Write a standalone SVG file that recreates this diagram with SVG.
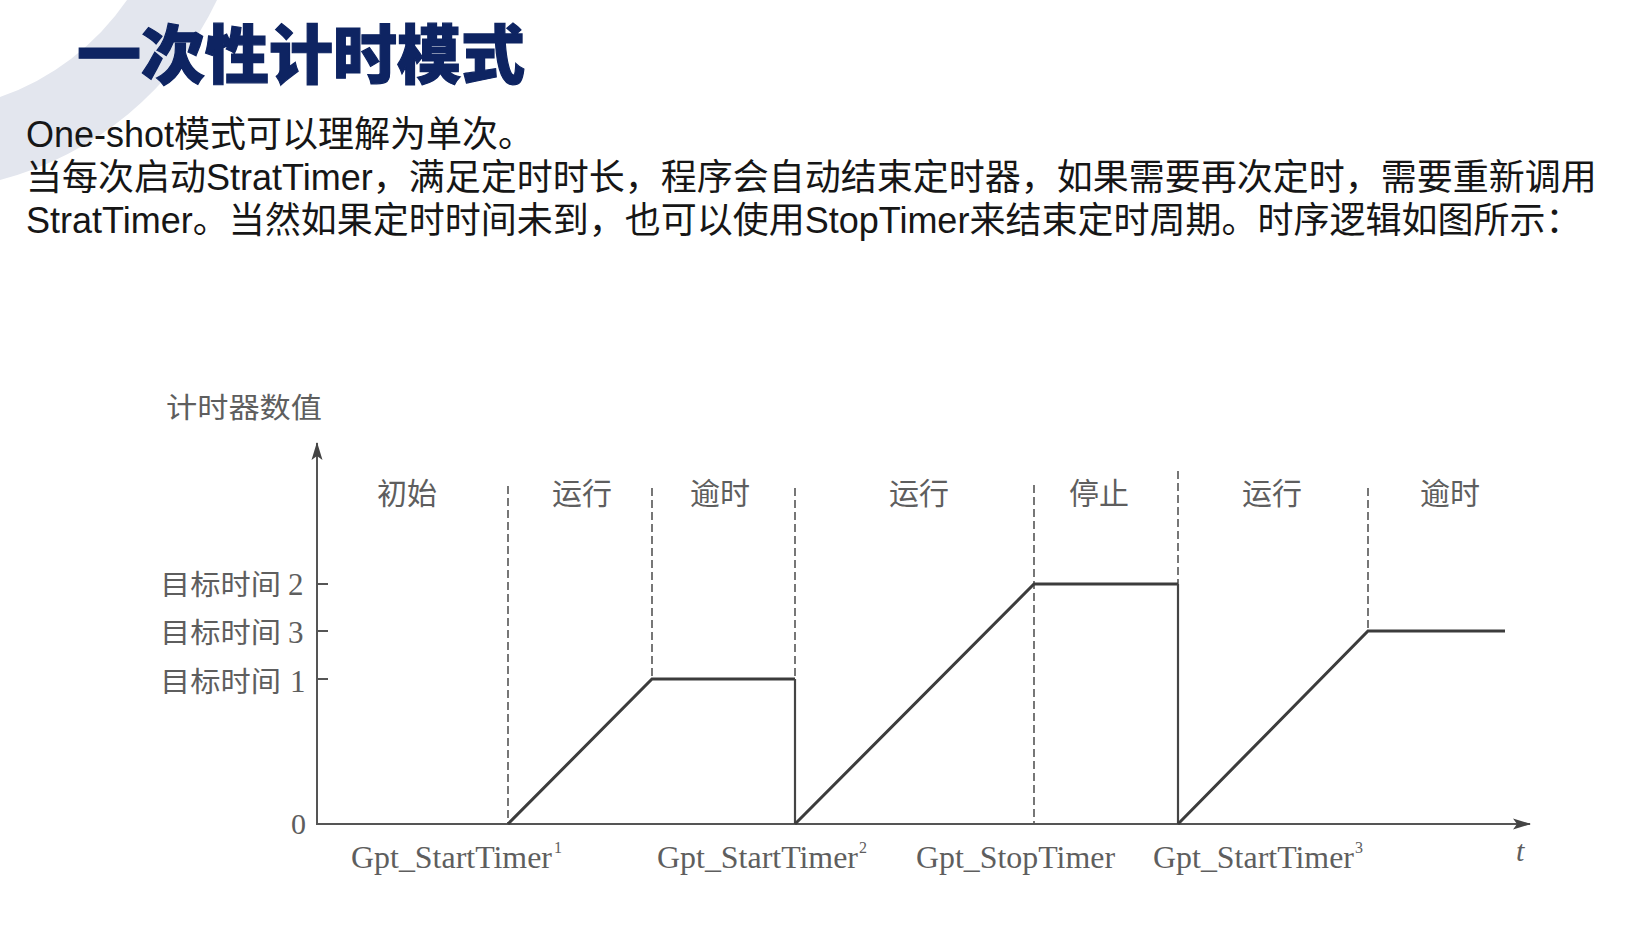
<svg xmlns="http://www.w3.org/2000/svg" width="1629" height="931" viewBox="0 0 1629 931">
<defs>
<style>
.title{font-family:"Noto Sans CJK SC","Noto Sans",sans-serif;font-weight:900;font-size:64px;fill:#0e2462;stroke:#0e2462;stroke-width:1.2px}
.para{font-family:"Liberation Sans","Noto Sans CJK SC",sans-serif;font-size:36px;fill:#161616}
.cjk{font-family:"Noto Sans CJK SC",sans-serif;fill:#5e5e5e}
.num{font-family:"Liberation Serif",serif;fill:#5e5e5e}
.axis{stroke:#555;stroke-width:2;fill:none}
.guide{stroke:#555;stroke-width:1.6;stroke-dasharray:8 4;fill:none}
.sig{stroke:#3c3c3c;stroke-width:3;fill:none;stroke-linejoin:miter}
.drop{stroke:#454545;stroke-width:2.2;fill:none}
</style>
<marker id="arr" viewBox="0 0 18 12" refX="17" refY="6" markerWidth="18" markerHeight="12" markerUnits="userSpaceOnUse" orient="auto">
<path d="M0,0.5 L18,6 L0,11.5 L4,6 Z" fill="#444"/>
</marker>
</defs>
<rect width="1629" height="931" fill="#ffffff"/>
<path id="bg-arc" d="M127,0 A256,256 0 0 1 0,97 L0,180 A335,335 0 0 0 217,0 Z" fill="#e3e6ee"/>
<g id="title"><text class="title" x="77" y="78">一次性计时模式</text></g>
<g id="paragraph">
<text class="para" x="26" y="147">One-shot模式可以理解为单次。</text>
<text class="para" x="26" y="190">当每次启动StratTimer，满足定时时长，程序会自动结束定时器，如果需要再次定时，需要重新调用</text>
<text class="para" x="26" y="233">StratTimer。当然如果定时时间未到，也可以使用StopTimer来结束定时周期。时序逻辑如图所示：</text>
</g>
<g id="axes">
<line class="axis" x1="317" y1="825" x2="317" y2="443" marker-end="url(#arr)"/>
<line class="axis" x1="316" y1="824" x2="1530" y2="824" marker-end="url(#arr)"/>
<line class="axis" x1="317" y1="584" x2="328" y2="584"/>
<line class="axis" x1="317" y1="631" x2="328" y2="631"/>
<line class="axis" x1="317" y1="679" x2="328" y2="679"/>
</g>
<g id="guides">
<line class="guide" x1="508" y1="486" x2="508" y2="824"/>
<line class="guide" x1="652" y1="488" x2="652" y2="679"/>
<line class="guide" x1="795" y1="488" x2="795" y2="679"/>
<line class="guide" x1="1034" y1="485" x2="1034" y2="824"/>
<line class="guide" x1="1178" y1="471" x2="1178" y2="584"/>
<line class="guide" x1="1368" y1="488" x2="1368" y2="631"/>
</g>
<g id="signal">
<polyline class="sig" points="508,824 652,679 795,679"/>
<line class="drop" x1="795" y1="679" x2="795" y2="824"/>
<polyline class="sig" points="795,824 1034,584 1178,584"/>
<line class="drop" x1="1178" y1="584" x2="1178" y2="824"/>
<polyline class="sig" points="1178,824 1368,631 1505,631"/>
</g>
<g id="y-labels">
<text class="cjk" x="166" y="418" font-size="28" textLength="156" lengthAdjust="spacingAndGlyphs">计时器数值</text>
<text class="cjk" x="160" y="595" font-size="28" textLength="121" lengthAdjust="spacingAndGlyphs">目标时间</text>
<text class="num" x="288" y="595" font-size="31">2</text>
<text class="cjk" x="160" y="643" font-size="28" textLength="121" lengthAdjust="spacingAndGlyphs">目标时间</text>
<text class="num" x="288" y="643" font-size="31">3</text>
<text class="cjk" x="160" y="692" font-size="28" textLength="121" lengthAdjust="spacingAndGlyphs">目标时间</text>
<text class="num" x="290" y="692" font-size="31">1</text>
<text class="num" x="306" y="834" font-size="30" text-anchor="end">0</text>
</g>
<g id="phase-labels" font-size="30">
<text class="cjk" x="407" y="504" text-anchor="middle">初始</text>
<text class="cjk" x="582" y="504" text-anchor="middle">运行</text>
<text class="cjk" x="720" y="504" text-anchor="middle">逾时</text>
<text class="cjk" x="919" y="504" text-anchor="middle">运行</text>
<text class="cjk" x="1099" y="504" text-anchor="middle">停止</text>
<text class="cjk" x="1272" y="504" text-anchor="middle">运行</text>
<text class="cjk" x="1450" y="504" text-anchor="middle">逾时</text>
</g>
<g id="x-labels">
<text class="num" x="351" y="868" font-size="32" textLength="201" lengthAdjust="spacingAndGlyphs">Gpt_StartTimer</text>
<text class="num" x="554" y="853" font-size="16">1</text>
<text class="num" x="657" y="868" font-size="32" textLength="201" lengthAdjust="spacingAndGlyphs">Gpt_StartTimer</text>
<text class="num" x="859" y="853" font-size="16">2</text>
<text class="num" x="916" y="868" font-size="32" textLength="199" lengthAdjust="spacingAndGlyphs">Gpt_StopTimer</text>
<text class="num" x="1153" y="868" font-size="32" textLength="201" lengthAdjust="spacingAndGlyphs">Gpt_StartTimer</text>
<text class="num" x="1355" y="853" font-size="16">3</text>
<text class="num" x="1516" y="861" font-size="30" font-style="italic">t</text>
</g>
</svg>
